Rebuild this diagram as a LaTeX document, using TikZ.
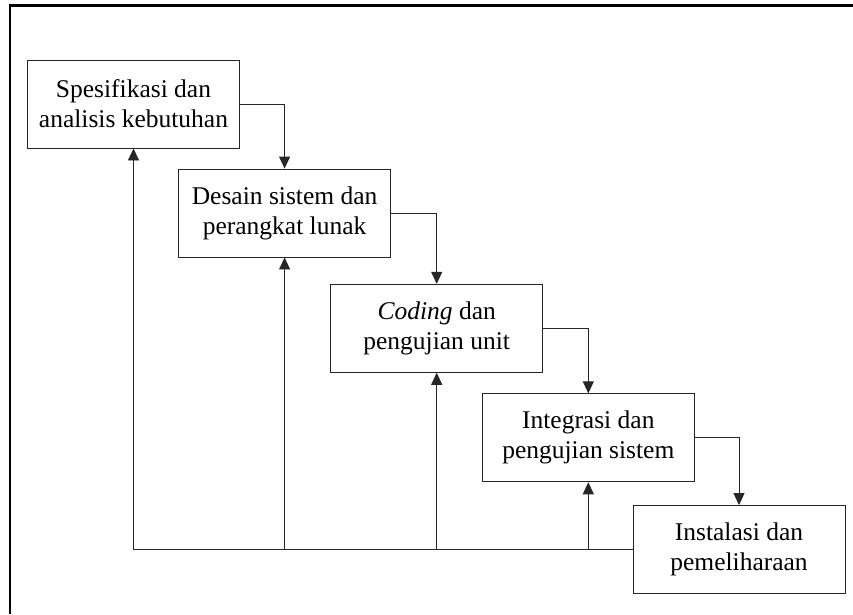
\documentclass[tikz,border=0pt]{standalone}
\usepackage{fontspec}
\setmainfont{Liberation Serif}
\usetikzlibrary{arrows.meta}
\begin{document}
\begin{tikzpicture}[x=1pt,y=-1pt,
  stage/.style={draw=black!85,line width=0.9pt,fill=white,minimum width=212pt,
    minimum height=88pt,align=center,inner sep=0pt,
    font=\fontsize{25.5}{30}\selectfont},
  flow/.style={draw=black!85,line width=0.9pt,-{Triangle[length=12pt,width=11pt]}},
  frame/.style={line width=2.6pt,draw=black}]
\useasboundingbox (0,0) rectangle (853,614);
% outer frame (top and left edges)
\draw[frame] (9.8,614) -- (9.8,5.6) -- (853,5.6);

% stages
\node[stage] (s1) at (133.5,104) {Spesifikasi dan\\analisis kebutuhan};
\node[stage] (s2) at (284.6,213) {Desain sistem dan\\perangkat lunak};
\node[stage] (s3) at (436.7,328.3) {\textit{Coding} dan\\pengujian unit};
\node[stage] (s4) at (588.3,437.8) {Integrasi dan\\pengujian sistem};
\node[stage] (s5) at (739,549.5) {Instalasi dan\\pemeliharaan};

% forward flow
\draw[flow] (s1.east) -| (s2.north);
\draw[flow] (s2.east) -| (s3.north);
\draw[flow] (s3.east) -| (s4.north);
\draw[flow] (s4.east) -| (s5.north);

% feedback line
\coordinate (fb) at (s5.west);
\draw[draw=black!85,line width=1.1pt] (fb) -- (s1.south |- fb);
\draw[flow] (s1.south |- fb) -- (s1.south);
\draw[flow] (s2.south |- fb) -- (s2.south);
\draw[flow] (s3.south |- fb) -- (s3.south);
\draw[flow] (s4.south |- fb) -- (s4.south);
\end{tikzpicture}
\end{document}
